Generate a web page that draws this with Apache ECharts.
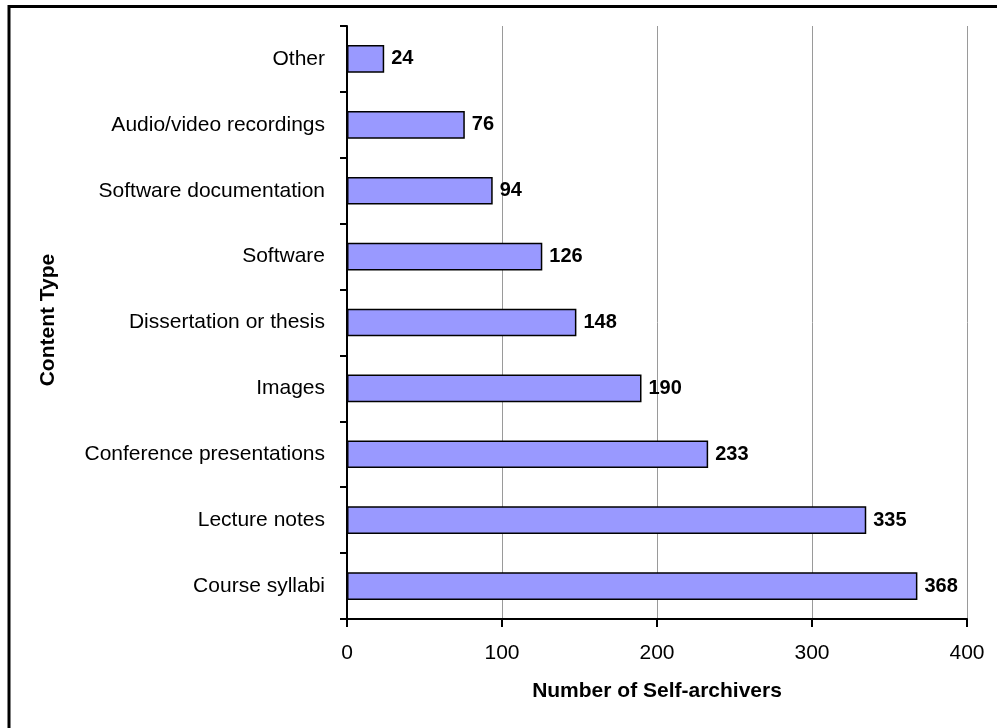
<!DOCTYPE html>
<html>
<head>
<meta charset="utf-8">
<script src="https://cdn.jsdelivr.net/npm/echarts@6/dist/echarts.min.js"></script>
<style>
html,body{margin:0;padding:0;background:#fff;}
#chart{width:997px;height:728px;}
</style>
</head>
<body>
<div id="chart"></div>
<script>
const categories = ["Course syllabi","Lecture notes","Conference presentations","Images","Dissertation or thesis","Software","Software documentation","Audio/video recordings","Other"];
const values = [368,335,233,190,148,126,94,76,24];
const xTicks = [0,100,200,300,400];
const xTitle = "Number of Self-archivers";
const yTitle = "Content Type";

const FONT = '"Liberation Sans", Arial, sans-serif';
const chart = echarts.init(document.getElementById('chart'), null, {renderer:'canvas'});
chart.setOption({
  animation:false,
  backgroundColor:'#fff',
  graphic:[{
    type:'rect', shape:{x:9, y:6.5, width:1100, height:1000},
    style:{fill:'none', stroke:'#000', lineWidth:3}, silent:true
  },{
    type:'text', x:48, y:320, rotation:Math.PI/2,
    style:{text:yTitle, font:'bold 21px ' + FONT, fill:'#000', align:'center', verticalAlign:'middle'}
  }],
  grid:{left:347, right:30, top:26, bottom:109, containLabel:false},
  xAxis:{
    type:'value', min:xTicks[0], max:xTicks[xTicks.length-1], interval:100,
    axisLine:{show:true, lineStyle:{color:'#000', width:2}},
    axisTick:{show:true, length:8, lineStyle:{color:'#000', width:2}},
    axisLabel:{color:'#000', fontFamily:FONT, fontSize:21, margin:24},
    splitLine:{show:true, lineStyle:{color:'#9a9a9a', width:1}},
    name:xTitle, nameLocation:'middle', nameGap:62,
    nameTextStyle:{color:'#000', fontFamily:FONT, fontSize:21, fontWeight:'bold'}
  },
  yAxis:{
    type:'category', data:categories,
    axisLine:{show:true, lineStyle:{color:'#000', width:2}},
    axisTick:{show:true, length:7, lineStyle:{color:'#000', width:2}},
    axisLabel:{color:'#000', fontFamily:FONT, fontSize:21, margin:22},
    splitLine:{show:false}
  },
  series:[{
    type:'bar', data:values, barWidth:'42%',
    itemStyle:{color:'#9999ff', borderColor:'#000', borderWidth:1.5},
    label:{show:true, position:'right', distance:7, color:'#000', fontFamily:FONT, fontSize:20, fontWeight:'bold'}
  }]
});
</script>
</body>
</html>
